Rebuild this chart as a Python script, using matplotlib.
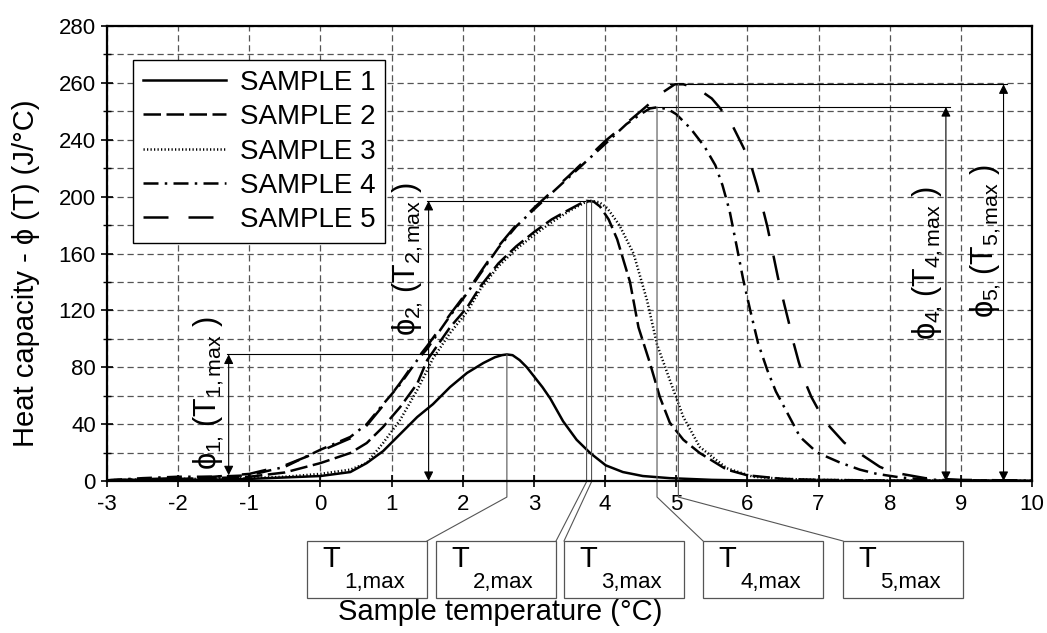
import matplotlib.pyplot as plt
from matplotlib.patches import Rectangle
from matplotlib.ticker import MultipleLocator

plt.rcParams['font.family'] = ['Liberation Sans', 'DejaVu Sans']
plt.rcParams['axes.unicode_minus'] = False
plt.rcParams['mathtext.fontset'] = 'custom'
plt.rcParams['mathtext.rm'] = 'Liberation Sans'
plt.rcParams['mathtext.it'] = 'Liberation Sans'
plt.rcParams['mathtext.fallback'] = 'stixsans'

# data (y in plot units, ticks relabelled below)
t1 = [-3, -2.5, -2, -1.5, -1, -0.5, 0, 0.42, 0.65, 0.88, 1.12, 1.36, 1.58, 1.82, 2.06, 2.29,
      2.45, 2.55, 2.62, 2.7, 2.8, 2.9, 3.01, 3.12, 3.23, 3.41, 3.6, 3.79, 4.01, 4.25, 4.53,
      4.91, 5.5, 6, 7, 8, 9, 10]
s1 = [0.3, 0.5, 0.8, 1, 1.5, 2.5, 3.5, 6.3, 12.6, 21, 33, 45, 54, 66, 76, 83,
      87, 88.5, 89, 88.5, 85, 80, 73, 66, 58, 42, 29, 19.7, 11, 6.3, 3.5,
      2, 0.8, 0.4, 0.2, 0.1, 0.1, 0.1]

t2 = [-3, -2.5, -2, -1.5, -1, -0.5, 0, 0.42, 0.65, 0.88, 1.12, 1.36, 1.5, 1.82, 2.06, 2.25,
      2.5, 2.75, 3.0, 3.25, 3.5, 3.65, 3.74, 3.84, 3.93, 4.05, 4.17, 4.35, 4.47, 4.63, 4.77,
      4.91, 5.1, 5.33, 5.71, 6.0, 6.5, 7, 8, 10]
s2 = [0.5, 1, 1.5, 2, 3, 6, 12.6, 19.7, 26.7, 38, 52, 68.5, 85, 108, 122, 137,
      153, 165, 175, 184, 191, 195, 197, 196.5, 193, 184, 170, 140, 108, 83, 59,
      41, 29, 19.7, 8, 4, 1.5, 0.8, 0.3, 0.1]

t3 = [-3, -2.5, -2, -1.5, -1, -0.5, 0, 0.42, 0.65, 0.88, 1.12, 1.36, 1.58, 1.82, 2.06, 2.25,
      2.5, 2.75, 3.0, 3.25, 3.5, 3.7, 3.8, 3.92, 4.03, 4.2, 4.4, 4.59, 4.73, 4.91, 5.1, 5.33,
      5.71, 6.08, 6.5, 7, 8, 10]
s3 = [0.5, 1, 1.5, 1.5, 2, 3, 5, 8, 12.6, 26.7, 43, 64, 86, 104, 119, 135,
      151, 163, 173, 182, 190, 195.5, 197, 196, 192, 180, 160, 127, 96, 71, 45, 24,
      9, 3, 1.5, 0.8, 0.3, 0.1]

t4 = [-3, -2.5, -2, -1.5, -1, -0.5, 0, 0.42, 0.65, 0.88, 1.12, 1.36, 1.5, 1.82, 2.06, 2.25,
      2.5, 2.75, 3.0, 3.5, 4.0, 4.3, 4.5, 4.63, 4.75, 4.9, 5.0, 5.2, 5.4, 5.55, 5.65, 5.75,
      5.85, 5.94, 6.04, 6.15, 6.28, 6.4, 6.56, 6.74, 6.98, 7.3, 7.58, 7.82, 8.15, 8.5, 9, 10]
s4 = [0.5, 2, 3, 3, 4, 10, 22, 31, 40, 54, 68, 85, 93, 116, 132, 146,
      164, 179, 191, 214, 237, 251, 258, 262, 263, 261, 258, 248, 235, 222, 208, 190,
      165, 142, 120, 97, 78, 63, 48, 31, 20, 13, 8, 5, 2.5, 1, 0.5, 0.3]

t5 = [-3, -2, -1.5, -1, -0.5, 0, 0.42, 0.65, 0.88, 1.12, 1.36, 1.5, 1.82, 2.06, 2.25, 2.5,
      2.75, 3.0, 3.5, 4.0, 4.5, 4.8, 4.98, 5.1, 5.3, 5.5, 5.62, 5.8, 5.94, 6.04, 6.14, 6.2,
      6.28, 6.36, 6.43, 6.52, 6.58, 6.65, 6.72, 6.8, 6.9, 7.02, 7.16, 7.36, 7.56, 7.86, 8.05,
      8.5, 9, 10]
s5 = [0.5, 2, 3, 5, 11, 21, 30, 39, 53, 69, 86, 95, 117, 133, 147, 165,
      180, 192, 215, 239, 260, 273, 279, 279, 276, 269, 262, 249, 235, 224, 207, 195,
      179, 160, 143, 124, 112, 97, 84, 71, 59, 48, 38, 27, 20, 10, 6,
      2, 0.8, 0.3]

labels = ['SAMPLE 1', 'SAMPLE 2', 'SAMPLE 3', 'SAMPLE 4', 'SAMPLE 5']
ytick_vals = [0, 40, 80, 120, 160, 200, 240, 280, 320]
ytick_labels = ['0', '40', '80', '120', '160', '200', '240', '260', '280']

# peak positions (T_max, phi_max) and where the arrows sit
peak_t = [2.62, 3.74, 3.81, 4.73, 5.03]
peak_phi = [89, 197, 197, 263, 279]
arrow_x = {1: -1.29, 2: 1.52, 4: 8.79, 5: 9.6}

fig = plt.figure(figsize=(10.47, 6.33), dpi=100)
ax = fig.add_axes([107 / 1047, 1 - 481 / 633, 925 / 1047, 455 / 633])

lw = 1.8
ax.plot(t1, s1, color='black', lw=lw, label=labels[0])
ax.plot(t2, s2, color='black', lw=lw, dashes=(7, 2.2), label=labels[1])
ax.plot(t3, s3, color='black', lw=lw, dashes=(0.5, 0.9), label=labels[2])
ax.plot(t4, s4, color='black', lw=lw, dashes=(6, 2.5, 1, 2.5), label=labels[3])
ax.plot(t5, s5, color='black', lw=lw, dashes=(10, 8), label=labels[4])

ax.set_xlim(-3, 10)
ax.set_ylim(0, 320)
ax.set_xticks(range(-3, 11))
ax.set_yticks(ytick_vals)
ax.set_yticklabels(ytick_labels)
ax.yaxis.set_minor_locator(MultipleLocator(20))
ax.tick_params(axis='both', which='major', direction='inout', length=8, width=1.2,
               labelsize=16)
ax.tick_params(axis='y', which='minor', direction='inout', length=6, width=1.0)
ax.tick_params(axis='x', pad=5)
ax.tick_params(axis='y', pad=4)
ax.grid(True, which='both', axis='y', color='#555555', lw=0.9, dashes=(5, 3))
ax.grid(True, which='major', axis='x', color='#555555', lw=0.9, dashes=(5, 3))
ax.set_axisbelow(True)
for sp in ax.spines.values():
    sp.set_linewidth(1.6)

ax.set_xlabel('Sample temperature (°C)', fontsize=21)
ax.xaxis.set_label_coords(0.425, -0.258)
ax.set_ylabel('Heat capacity - ϕ (T) (J/°C)', fontsize=21)
ax.yaxis.set_label_coords(-0.072, 0.457)

leg = ax.legend(loc='upper left', bbox_to_anchor=(0.028, 0.925), borderaxespad=0,
                fontsize=20, handlelength=3.0, handletextpad=0.5, labelspacing=0.3,
                borderpad=0.35, fancybox=False, framealpha=1, edgecolor='black')
leg.get_frame().set_linewidth(1.0)

# horizontal guide lines from the peaks to the arrows
thin = dict(color='black', lw=0.8)
ax.plot([arrow_x[1] - 0.02, peak_t[0]], [peak_phi[0], peak_phi[0]], **thin)
ax.plot([arrow_x[2] - 0.02, peak_t[1]], [peak_phi[1], peak_phi[1]], **thin)
ax.plot([4.59, arrow_x[4] + 0.06], [peak_phi[3], peak_phi[3]], **thin)
ax.plot([4.91, arrow_x[5] + 0.05], [peak_phi[4], peak_phi[4]], **thin)

arr = dict(arrowstyle='<|-|>', color='black', lw=0.8, mutation_scale=14,
           shrinkA=0, shrinkB=0)
ax.annotate('', xy=(arrow_x[1], peak_phi[0]), xytext=(arrow_x[1], 4), arrowprops=arr)
ax.annotate('', xy=(arrow_x[2], peak_phi[1]), xytext=(arrow_x[2], 0), arrowprops=arr)
ax.annotate('', xy=(arrow_x[4], peak_phi[3]), xytext=(arrow_x[4], 0), arrowprops=arr)
ax.annotate('', xy=(arrow_x[5], peak_phi[4]), xytext=(arrow_x[5], 0), arrowprops=arr)

phi_txt = dict(rotation=90, ha='center', va='center', fontsize=22)
ax.text(-1.57, 62, r'$ϕ_{1,}\,(\mathrm{T}_{1,max}\ )$', **phi_txt)
ax.text(1.23, 156, r'$ϕ_{2,}\,(\mathrm{T}_{2,max}\ )$', **phi_txt)
ax.text(8.53, 153, r'$ϕ_{4,}\,(\mathrm{T}_{4,max}\ )$', **phi_txt)
ax.text(9.35, 169, r'$ϕ_{5,}\,(\mathrm{T}_{5,max}\ )$', **phi_txt)

# leader lines down to the T_max boxes below the axis
box_left = [-0.19, 1.624, 3.423, 5.377, 7.344]
box_w, box_top, box_bot = 1.687, -42.2, -82.3
bend = [-11.3, -0.5, -0.5, -11.3, -11.3]
ends = [box_left[0] + box_w, box_left[1] + box_w, box_left[2], box_left[3], box_left[4]]
gray = '#555555'
for i in range(5):
    ax.plot([peak_t[i], peak_t[i], ends[i]], [peak_phi[i], bend[i], box_top],
            color=gray, lw=0.8, clip_on=False)
    ax.add_patch(Rectangle((box_left[i], box_bot), box_w, box_top - box_bot,
                           fill=False, edgecolor=gray, lw=0.9, clip_on=False))
    ax.text(box_left[i] + 0.21, -60.5, 'T', fontsize=21, va='baseline', ha='left',
            clip_on=False)
    ax.text(box_left[i] + 0.52, -75.3, f'{i + 1},max', fontsize=16, va='baseline',
            ha='left', clip_on=False)

fig.savefig('out.png', dpi=100)
